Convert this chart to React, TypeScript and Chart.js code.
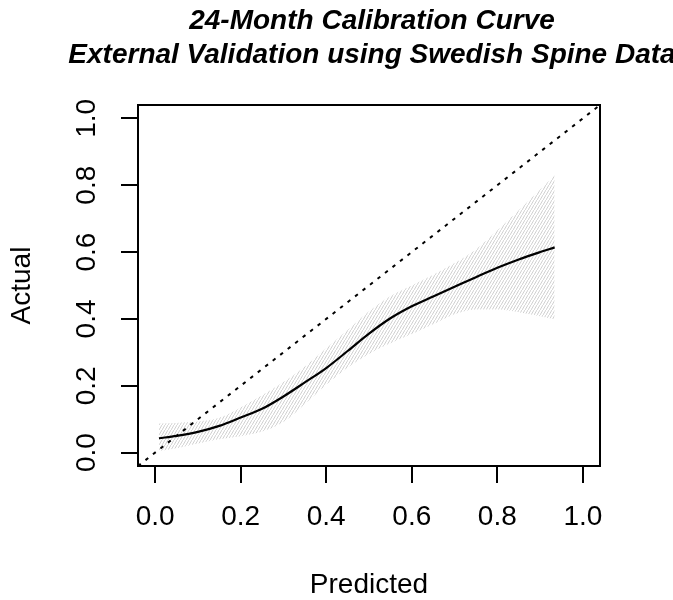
import React, { useEffect, useRef } from 'react';
import { Chart, registerables } from 'chart.js';

Chart.register(...registerables);

// ---- data ----
const predicted = [0.009, 0.05, 0.1, 0.15, 0.2, 0.25, 0.3, 0.35, 0.4, 0.45, 0.5, 0.55, 0.6, 0.65, 0.7, 0.75, 0.8, 0.85, 0.9, 0.934];
const actualFit = [0.043, 0.05, 0.062, 0.08, 0.105, 0.131, 0.168, 0.21, 0.253, 0.304, 0.356, 0.402, 0.438, 0.467, 0.496, 0.525, 0.553, 0.578, 0.6, 0.614];
const upperCI = [0.087, 0.089, 0.093, 0.104, 0.135, 0.172, 0.211, 0.258, 0.312, 0.367, 0.423, 0.468, 0.5, 0.532, 0.567, 0.608, 0.665, 0.725, 0.787, 0.83];
const lowerCI = [0.005, 0.013, 0.027, 0.04, 0.049, 0.063, 0.092, 0.145, 0.203, 0.254, 0.295, 0.327, 0.355, 0.384, 0.414, 0.428, 0.428, 0.42, 0.408, 0.399];
const axisLimits = [-0.04, 1.04];
const tickValues = [0, 0.2, 0.4, 0.6, 0.8, 1.0];
const titleLines = ['24-Month Calibration Curve', 'External Validation using Swedish Spine Data'];
const xTitle = 'Predicted';
const yTitle = 'Actual';

const FONT = '"Liberation Sans", Arial, Helvetica, sans-serif';

function makeHatch(): CanvasPattern | string {
  const c = document.createElement('canvas');
  c.width = 3;
  c.height = 5;
  const g = c.getContext('2d');
  if (!g) return '#e6e6e6';
  g.strokeStyle = '#d0d0d0';
  g.lineWidth = 1;
  for (let k = -1; k <= 1; k++) {
    g.beginPath();
    g.moveTo(0, 5 + 5 * k);
    g.lineTo(3, 5 * k);
    g.stroke();
  }
  return g.createPattern(c, 'repeat') || '#e6e6e6';
}

const boxPlugin = {
  id: 'rbox',
  afterDatasetsDraw(chart: any) {
    const { ctx, chartArea } = chart;
    const { left, top, right, bottom } = chartArea;
    ctx.save();
    ctx.strokeStyle = '#000';
    ctx.lineWidth = 2;
    ctx.strokeRect(left, top, right - left, bottom - top);
    ctx.restore();
  },
};

const titlePlugin = {
  id: 'rtitle',
  afterDraw(chart: any) {
    const { ctx, chartArea } = chart;
    const cx = (chartArea.left + chartArea.right) / 2 + 3;
    ctx.save();
    ctx.fillStyle = '#000';
    ctx.font = `italic bold 28px ${FONT}`;
    ctx.textAlign = 'center';
    ctx.textBaseline = 'middle';
    titleLines.forEach((line, i) => {
      ctx.fillText(line, cx, 21 + i * 34);
    });
    ctx.restore();
  },
};

export default function App() {
  const ref = useRef<HTMLCanvasElement | null>(null);

  useEffect(() => {
    if (!ref.current) return;
    Chart.defaults.font.family = FONT;
    const hatch = makeHatch();
    const pts = (ys: number[]) => predicted.map((x, i) => ({ x, y: ys[i] }));

    const chart = new Chart(ref.current, {
      type: 'line',
      data: {
        datasets: [
          {
            label: 'fit',
            data: pts(actualFit),
            borderColor: '#000',
            borderWidth: 2.2,
            pointRadius: 0,
            cubicInterpolationMode: 'monotone',
            fill: false,
          },
          {
            label: 'ideal',
            data: axisLimits.map((v) => ({ x: v, y: v })),
            borderColor: '#000',
            borderWidth: 2,
            borderDash: [3.5, 6],
            pointRadius: 0,
            fill: false,
          },
          {
            label: 'upper',
            data: pts(upperCI),
            borderColor: 'rgba(0,0,0,0)',
            borderWidth: 0,
            pointRadius: 0,
            cubicInterpolationMode: 'monotone',
            backgroundColor: hatch as any,
            fill: '+1',
          },
          {
            label: 'lower',
            data: pts(lowerCI),
            borderColor: 'rgba(0,0,0,0)',
            borderWidth: 0,
            pointRadius: 0,
            cubicInterpolationMode: 'monotone',
            fill: false,
          },
        ],
      },
      options: {
        responsive: false,
        animation: false,
        events: [],
        layout: { padding: { left: 0, top: 105, right: 73, bottom: 0 } },
        plugins: {
          legend: { display: false },
          tooltip: { enabled: false },
          title: { display: false },
        },
        scales: {
          x: {
            type: 'linear',
            min: axisLimits[0],
            max: axisLimits[1],
            afterBuildTicks: (s: any) => {
              s.ticks = tickValues.map((v) => ({ value: v }));
            },
            afterFit: (s: any) => {
              s.height = 134;
            },
            grid: { display: true, drawOnChartArea: false, drawTicks: true, tickLength: 17, color: '#000', lineWidth: 2 },
            border: { display: false },
            ticks: {
              color: '#000',
              font: { size: 28 },
              padding: 17,
              autoSkip: false,
              minRotation: 0,
              maxRotation: 0,
              callback: (v: any) => Number(v).toFixed(1),
            },
            title: {
              display: true,
              text: xTitle,
              color: '#000',
              font: { size: 28, lineHeight: 1 },
              padding: { top: 0, bottom: 1 },
            },
          },
          y: {
            type: 'linear',
            min: axisLimits[0],
            max: axisLimits[1],
            afterBuildTicks: (s: any) => {
              s.ticks = tickValues.map((v) => ({ value: v }));
            },
            afterFit: (s: any) => {
              s.width = 138;
            },
            grid: { display: true, drawOnChartArea: false, drawTicks: true, tickLength: 17, color: '#000', lineWidth: 2 },
            border: { display: false },
            ticks: {
              color: '#000',
              font: { size: 28 },
              padding: 14,
              autoSkip: false,
              minRotation: 90,
              maxRotation: 90,
              crossAlign: 'center',
              callback: (v: any) => Number(v).toFixed(1),
            },
            title: {
              display: true,
              text: yTitle,
              color: '#000',
              font: { size: 28, lineHeight: 1 },
              padding: { top: 8.5, bottom: 0 },
            },
          },
        },
      } as any,
      plugins: [boxPlugin, titlePlugin],
    });
    return () => chart.destroy();
  }, []);

  return (
    <div style={{ position: 'fixed', left: 0, top: 0, width: 673, height: 600, background: '#fff' }}>
      <canvas ref={ref} width={673} height={600} style={{ width: 673, height: 600, display: 'block' }} />
    </div>
  );
}
